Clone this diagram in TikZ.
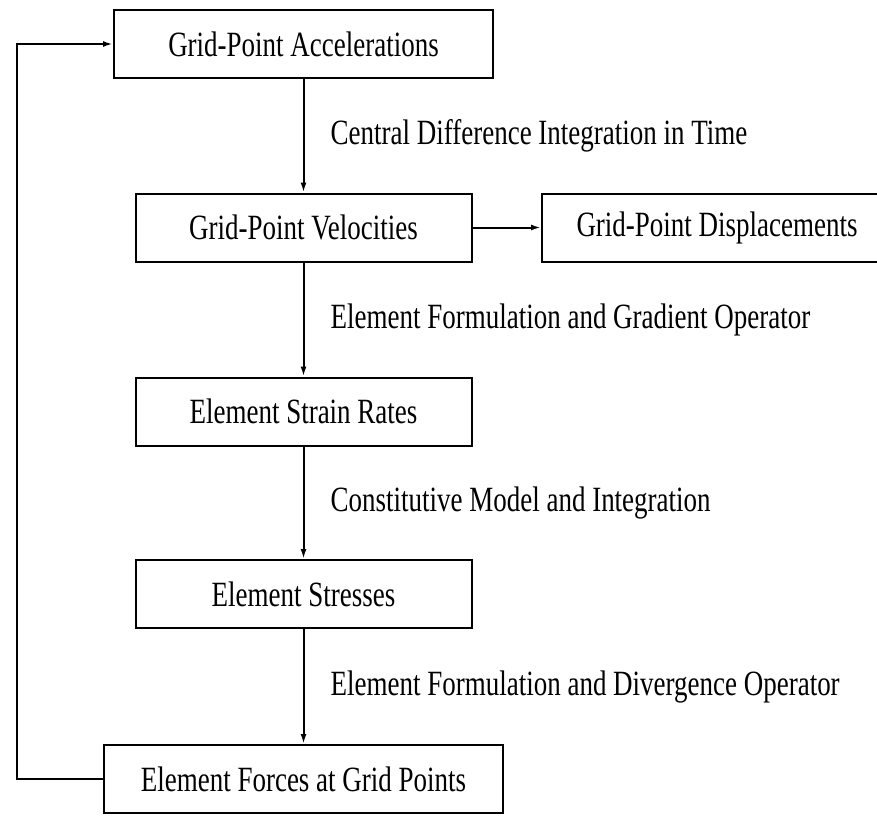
\documentclass[tikz,border=0pt]{standalone}
\usepackage{fontspec}
\setmainfont{Liberation Serif}[FakeStretch=0.76]
\usetikzlibrary{calc,arrows.meta}

\begin{document}
\begin{tikzpicture}[x=1pt,y=-1pt,
    box/.style={draw, line width=2pt, rectangle, inner sep=0pt, minimum height=68pt,
        font=\fontsize{35.5}{40}\selectfont},
    lbl/.style={anchor=west, inner sep=0pt, font=\fontsize{35.5}{40}\selectfont},
    arr/.style={-{Latex[length=10pt,width=6pt]}, line width=2pt}]
    % Picture frame (the right and bottom edges cut through boxes)
    \clip (0,0) rectangle (877,815);
    % Main chain of boxes
    \foreach \nm/\y/\w/\txt in {
        acc/44/379/Grid-Point Accelerations,
        vel/227.5/336/Grid-Point Velocities,
        strain/411.5/336/Element Strain Rates,
        stress/594/336/Element Stresses,
        forces/779/399/Element Forces at Grid Points
    } {
        \node[box, minimum width=\w pt] (\nm) at (303.5,\y) {\txt};
    }
    % Side box
    \node[box, minimum width=350pt] (disp) at (717,227.5) {Grid-Point Displacements};
    % Arrows down the chain with their labels
    \foreach \a/\b/\txt in {
        acc/vel/Central Difference Integration in Time,
        vel/strain/Element Formulation and Gradient Operator,
        strain/stress/Constitutive Model and Integration,
        stress/forces/Element Formulation and Divergence Operator
    } {
        \draw[arr] (\a.south) -- (\b.north);
        \node[lbl] (l-\a) at ($(\a.south)!0.5!(\b.north)+(27,0)$) {\txt};
    }
    \draw[arr] (vel.east) -- (disp.west);
    % Feedback loop
    \coordinate (lp) at (17,0);
    \draw[arr] (forces.west) -- (forces.west -| lp) |- (acc.west);
\end{tikzpicture}
\end{document}
